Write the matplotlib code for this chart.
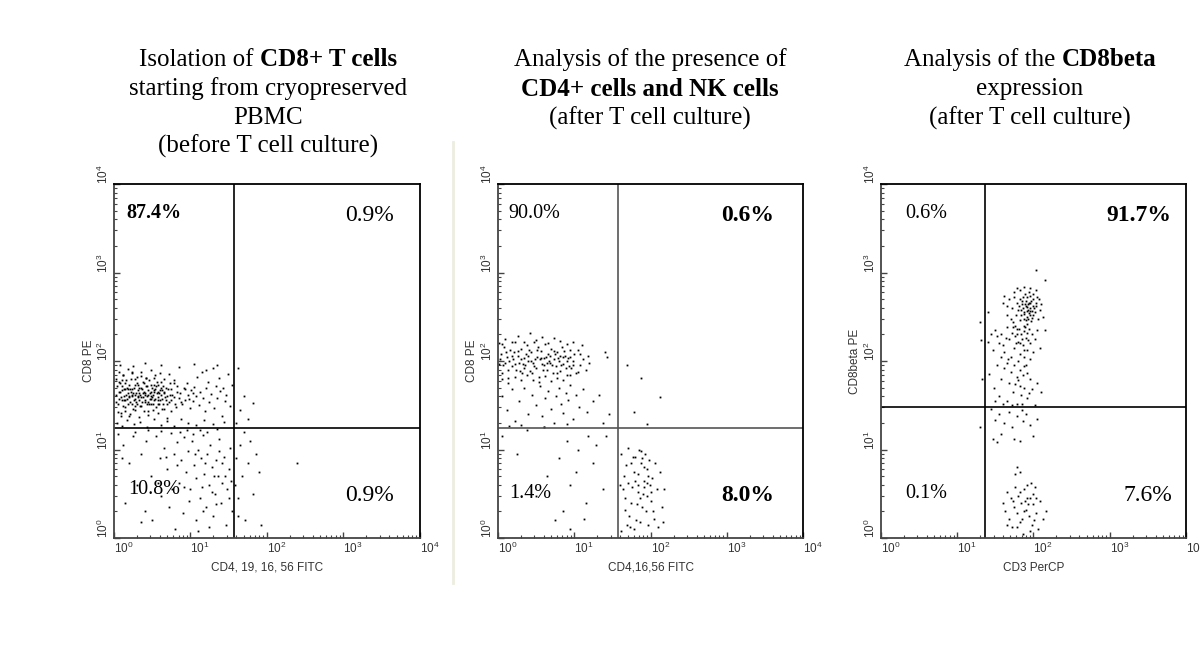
import numpy as np
import matplotlib
matplotlib.use("Agg")
import matplotlib.pyplot as plt
from matplotlib.lines import Line2D

plt.rcParams['mathtext.fontset'] = 'custom'
plt.rcParams['mathtext.rm'] = 'Liberation Sans'
plt.rcParams['font.family'] = 'Liberation Sans'

# --- data: events in log10 decades (x, y) ---
p1_ul = [(0.03,1.62),(0.05,1.51),(0.06,1.76),(0.08,1.65),(0.09,1.41),(0.10,1.56),(0.11,1.72),(0.12,1.84),(0.13,1.60),(0.14,1.48),
         (0.15,1.68),(0.16,1.78),(0.17,1.57),(0.18,1.64),(0.19,1.38),(0.20,1.73),(0.21,1.54),(0.22,1.65),(0.23,1.88),(0.24,1.60),
         (0.25,1.46),(0.26,1.70),(0.27,1.57),(0.28,1.80),(0.29,1.64),(0.30,1.52),(0.31,1.67),(0.32,1.73),(0.33,1.56),(0.34,1.62),
         (0.35,1.83),(0.36,1.49),(0.37,1.68),(0.38,1.59),(0.39,1.75),(0.40,1.64),(0.41,1.54),(0.42,1.72),(0.43,1.60),(0.44,1.43),
         (0.45,1.67),(0.46,1.78),(0.47,1.57),(0.48,1.65),(0.49,1.51),(0.50,1.70),(0.51,1.62),(0.52,1.81),(0.53,1.56),(0.54,1.68),
         (0.55,1.48),(0.56,1.64),(0.57,1.73),(0.58,1.59),(0.59,1.52),(0.60,1.67),(0.62,1.76),(0.63,1.57),(0.65,1.64),(0.66,1.46),
         (0.68,1.70),(0.70,1.60),(0.72,1.54),(0.74,1.68),(0.76,1.62),(0.78,1.75),(0.80,1.51),
         (0.04,1.72),(0.07,1.57),(0.10,1.67),(0.12,1.49),(0.14,1.75),(0.16,1.62),(0.18,1.52),(0.20,1.59),(0.22,1.80),(0.24,1.68),
         (0.26,1.56),(0.28,1.62),(0.30,1.75),(0.32,1.59),(0.34,1.49),(0.36,1.70),(0.38,1.64),(0.40,1.56),(0.42,1.81),(0.44,1.62),
         (0.46,1.52),(0.48,1.73),(0.50,1.59),(0.52,1.67),(0.54,1.57),(0.56,1.76),(0.58,1.65),(0.60,1.56),(0.62,1.62),(0.64,1.72),
         (0.67,1.59),(0.69,1.51),(0.71,1.68),(0.73,1.62),(0.75,1.56),
         (0.02,1.54),(0.06,1.65),(0.09,1.59),(0.11,1.78),(0.13,1.68),(0.15,1.56),(0.17,1.70),(0.19,1.60),(0.21,1.68),(0.23,1.51),
         (0.25,1.64),(0.27,1.73),(0.29,1.54),(0.31,1.60),(0.33,1.70),(0.35,1.59),(0.37,1.54),(0.39,1.65),(0.41,1.62),(0.43,1.72),
         (0.45,1.54),(0.47,1.64),(0.49,1.60),(0.51,1.52),(0.53,1.65),(0.55,1.72),(0.57,1.56),(0.59,1.64),(0.61,1.70),(0.64,1.52),
         (0.66,1.65),(0.08,1.75),(0.13,1.56),(0.18,1.68),(0.23,1.62),(0.28,1.49),(0.33,1.64),(0.38,1.76),(0.43,1.51),(0.48,1.57),
         (0.53,1.73),(0.58,1.51),(0.63,1.67),(0.68,1.56),(0.73,1.75),(0.78,1.59),(0.83,1.65),(0.88,1.54),(0.93,1.68),(0.98,1.57),
         (1.03,1.64),
         (0.02,1.80),(0.05,1.42),(0.07,1.88),(0.09,1.38),(0.12,1.84),(0.15,1.44),(0.18,1.91),(0.21,1.40),(0.24,1.86),(0.27,1.45),
         (0.30,1.82),(0.33,1.37),(0.36,1.88),(0.39,1.43),(0.42,1.81),(0.45,1.39),(0.48,1.90),(0.51,1.45),(0.54,1.84),(0.57,1.41),
         (0.60,1.87),(0.63,1.46),(0.66,1.80),(0.69,1.36),(0.72,1.85),(0.75,1.44),(0.78,1.79),(0.81,1.48),(0.83,1.72),(0.85,1.58),
         (0.87,1.64),(0.89,1.51),(0.91,1.69),(0.93,1.56),(0.95,1.75),(0.97,1.62),(0.99,1.47),(1.01,1.67),(1.03,1.55),(1.05,1.71),
         (1.07,1.60),(1.09,1.82),(1.11,1.50),(1.13,1.65),(1.15,1.88),(1.17,1.58),(1.19,1.43),(1.21,1.69),(1.23,1.76),(1.25,1.54),
         (1.27,1.63),(1.29,1.92),(1.31,1.47),(1.33,1.72),(1.35,1.58),(1.37,1.81),(1.39,1.66),(1.41,1.38),(1.43,1.70),(1.45,1.55),
         (1.47,1.62),(1.49,1.85),(1.52,1.49),(1.54,1.73),
         (0.04,1.30),(0.10,1.27),(0.17,1.33),(0.26,1.29),(0.34,1.31),(0.43,1.26),(0.52,1.34),(0.61,1.28),(0.70,1.32),(0.79,1.27),
         (0.88,1.35),(0.97,1.30),(1.08,1.28),(1.18,1.33),(1.30,1.29),(1.44,1.31),
         (0.08,1.96),(0.25,1.94),(0.40,1.98),(0.62,1.95),(0.85,1.93),(1.05,1.97),(1.20,1.90),(1.35,1.95)]
p1_ur = [(1.62,1.92),(1.70,1.60),(1.82,1.53),(1.65,1.45),(1.60,1.30),(1.75,1.35)]
p1_ll = [(0.05,1.18),(0.12,1.05),(0.20,0.85),(0.28,1.20),(0.35,0.95),(0.42,1.10),(0.48,0.70),(0.55,1.15),(0.60,0.90),(0.65,1.02),
         (0.70,0.78),(0.74,1.19),(0.78,0.95),(0.82,1.08),(0.85,0.62),(0.88,0.88),(0.91,1.14),(0.94,0.75),(0.97,0.98),(1.00,0.55),
         (1.02,1.10),(1.05,0.82),(1.07,0.68),(1.10,1.00),(1.12,0.45),(1.14,0.90),(1.16,1.16),(1.18,0.72),(1.20,0.35),(1.22,0.95),
         (1.24,0.60),(1.26,1.05),(1.28,0.80),(1.30,0.25),(1.32,0.50),(1.34,0.88),(1.36,0.70),(1.38,1.12),(1.40,0.40),(1.42,0.62),
         (1.44,0.92),(1.46,0.15),(1.48,0.55),(1.50,0.78),(1.52,1.02),(1.54,0.30),
         (0.15,0.40),(0.30,0.60),(0.40,0.30),(0.50,0.20),(0.62,0.48),(0.72,0.35),(0.80,0.10),(0.90,0.28),(0.98,0.42),(1.08,0.20),
         (1.15,0.58),(1.25,0.12),(1.33,0.38),(1.45,0.70),(0.58,0.62),(0.68,0.92),(0.76,0.55),(0.86,1.20),(0.95,1.22),(1.04,1.18),
         (1.13,1.22),(1.22,1.20),(1.35,1.23),(0.45,1.22),(0.25,1.15),(0.10,0.90),(0.36,0.18),(1.10,0.08),(1.28,0.52),(1.41,0.85),
         (1.50,0.45),(0.62,1.21),(0.83,0.82),(1.19,0.85),(1.37,0.98),(1.53,0.65),(0.92,0.58),(1.06,0.95),(1.17,0.30),(1.31,0.70)]
p1_lr = [(1.60,0.90),(1.62,0.45),(1.65,1.05),(1.68,0.70),(1.72,0.20),(1.75,0.85),(1.78,1.10),(1.82,0.50),(1.86,0.95),(1.90,0.75),
         (1.93,0.15),(1.63,0.25),(1.70,1.20),(2.40,0.85),(1.58,0.60)]

p2_ul = [(0.02,1.97),(0.04,2.08),(0.06,1.87),(0.08,2.16),(0.10,1.98),(0.12,2.05),(0.14,1.81),(0.16,2.13),(0.18,1.94),(0.20,2.02),
         (0.22,2.21),(0.24,1.90),(0.26,2.06),(0.28,1.98),(0.30,2.14),(0.32,1.86),(0.34,2.03),(0.36,1.95),(0.38,2.18),(0.40,2.00),
         (0.42,1.89),(0.44,2.10),(0.46,1.98),(0.48,2.22),(0.50,1.92),(0.52,2.05),(0.54,1.82),(0.56,2.11),(0.58,1.97),(0.60,2.03),
         (0.62,2.19),(0.64,1.90),(0.66,2.08),(0.68,1.98),(0.70,2.14),(0.72,1.87),(0.74,2.02),(0.76,1.94),(0.78,2.10),(0.80,2.00),
         (0.82,1.89),(0.84,2.16),(0.86,1.97),(0.88,2.06),(0.90,1.84),(0.92,2.03),(0.94,2.13),(0.96,1.92),(0.98,2.00),(1.00,2.08),
         (0.03,2.02),(0.07,1.95),(0.11,2.10),(0.15,2.00),(0.19,2.06),(0.23,1.97),(0.27,2.11),(0.31,2.02),(0.35,1.92),(0.39,2.06),
         (0.43,2.00),(0.47,1.94),(0.51,2.13),(0.55,2.02),(0.59,1.90),(0.63,2.05),(0.67,2.00),(0.71,1.95),(0.75,2.08),(0.79,2.03),
         (0.83,1.95),(0.87,2.11),(0.91,2.00),(0.95,2.05),(0.99,1.95),
         (0.05,2.19),(0.13,1.90),(0.21,2.10),(0.29,1.89),(0.37,2.08),(0.45,1.87),(0.53,2.16),(0.61,1.95),(0.69,2.06),(0.77,1.86),
         (0.85,2.05),(0.93,1.94),(0.57,2.03),(0.65,1.98),(0.73,2.11),(0.81,2.06),(0.89,1.92),(0.49,2.02),(0.41,2.13),(0.33,1.97),
         (0.02,2.20),(0.06,1.80),(0.10,2.25),(0.14,1.75),(0.18,2.22),(0.22,1.82),(0.26,2.28),(0.30,1.78),(0.34,2.21),(0.38,1.84),
         (0.42,2.32),(0.46,1.79),(0.50,2.24),(0.54,1.76),(0.58,2.27),(0.62,1.83),(0.66,2.20),(0.70,1.77),(0.74,2.26),(0.78,1.81),
         (0.82,2.23),(0.86,1.78),(0.90,2.19),(0.94,1.84),(0.98,2.22),(1.02,1.86),(1.05,2.12),(1.08,1.95),(1.10,2.18),(1.12,2.02),
         (1.15,1.90),(1.18,2.06),(1.20,1.98),(1.05,1.88),(1.08,2.08),
         (0.05,1.60),(0.12,1.45),(0.18,1.68),(0.22,1.32),(0.28,1.55),(0.35,1.70),(0.40,1.40),(0.45,1.62),(0.50,1.50),(0.55,1.72),
         (0.58,1.38),(0.62,1.58),(0.66,1.66),(0.70,1.46),(0.73,1.30),(0.76,1.60),(0.80,1.70),(0.83,1.52),(0.86,1.41),(0.89,1.64),
         (0.92,1.56),(0.95,1.73),(0.98,1.35),(1.02,1.62),(1.06,1.48),(1.12,1.68),(1.17,1.42),(1.25,1.55),(1.32,1.62),(1.38,1.30),
         (1.45,1.40),(0.30,1.28),(0.15,1.27),(0.60,1.26),(0.90,1.29),(1.43,2.05),(1.40,2.10)]
p2_ur = [(1.69,1.95),(1.87,1.81),(2.13,1.59),(1.78,1.42),(1.95,1.29)]
p2_ll = [(0.06,1.15),(0.25,0.95),(0.38,1.22),(0.60,1.25),(0.80,0.90),(0.95,0.60),(1.05,1.00),(1.18,1.15),(1.28,1.05),(1.42,1.15),
         (0.90,1.10),(0.65,0.70),(0.85,0.30),(0.95,0.10),(1.15,0.40),(1.13,0.22),(1.38,0.55),(0.75,0.20),(1.25,0.85),(0.50,0.48),
         (1.02,0.75)]
p2_lr = [(1.62,0.95),(1.65,0.70),(1.67,0.45),(1.70,1.02),(1.72,0.25),(1.74,0.85),(1.76,0.58),(1.78,0.10),(1.80,0.92),(1.82,0.38),
         (1.84,0.72),(1.86,0.18),(1.88,0.98),(1.90,0.50),(1.92,0.80),(1.94,0.30),(1.96,0.62),(1.98,0.88),(2.00,0.42),(2.02,0.68),
         (2.05,0.22),(2.08,0.55),(2.12,0.75),(2.15,0.35),(1.64,0.55),(1.68,0.82),(1.71,0.62),(1.75,0.40),(1.79,0.75),(1.83,0.52),
         (1.87,0.85),(1.91,0.65),(1.95,0.48),(1.99,0.60),(2.03,0.30),(1.85,1.00),(1.89,0.90),(1.93,0.95),(1.73,0.12),(1.81,0.20),
         (1.97,0.15),(2.10,0.12),(1.77,0.92),(1.83,0.60),(1.89,0.35),(1.95,0.78),(2.01,0.52),(2.06,0.85),(1.66,0.32),(1.69,0.15),
         (1.86,0.45),(1.92,0.58),(1.97,0.70),(1.80,0.65),(2.17,0.55),(2.16,0.18),(1.61,0.08),(1.60,0.60)]

p3_ur = [(1.90,2.62),(1.93,2.58),(1.96,2.66),(1.88,2.55),(1.99,2.70),(1.85,2.64),(1.92,2.72),(1.95,2.52),(2.01,2.60),(1.87,2.48),
         (1.94,2.66),(1.98,2.56),(1.91,2.50),(1.83,2.70),(2.03,2.66),(1.89,2.76),(1.97,2.45),(1.86,2.60),(1.94,2.78),(2.00,2.52),
         (1.80,2.58),(1.92,2.42),(1.96,2.74),(1.84,2.52),(1.90,2.68),(2.05,2.72),(1.78,2.66),(1.88,2.40),(1.99,2.62),(1.93,2.47),
         (1.82,2.46),(1.86,2.72),(1.91,2.56),(1.95,2.60),(2.02,2.55),(1.77,2.52),(1.89,2.64),(1.97,2.68),(1.84,2.58),(1.93,2.64),
         (1.87,2.53),(2.00,2.76),(1.81,2.62),(1.94,2.54),(1.90,2.46),(1.98,2.49),(1.85,2.68),(1.92,2.61),(1.96,2.57),(2.04,2.62),
         (1.75,2.72),(1.72,2.60),(1.70,2.48),(1.76,2.40),(1.74,2.78),(1.79,2.82),(1.83,2.80),(1.88,2.84),(1.95,2.82),(2.03,2.80),
         (2.07,2.70),(2.08,2.58),(2.06,2.48),(1.68,2.70),(1.65,2.62),(1.66,2.52),(1.62,2.74),(1.60,2.66),(2.10,2.64),(1.73,2.44),
         (1.50,2.35),(1.55,2.20),(1.58,2.30),(1.62,2.10),(1.65,2.38),(1.68,2.25),(1.70,2.05),(1.72,2.32),(1.74,2.15),(1.76,2.28),
         (1.78,2.36),(1.80,2.22),(1.82,2.08),(1.84,2.30),(1.86,2.18),(1.88,2.34),(1.90,2.26),(1.92,2.12),(1.94,2.36),(1.96,2.20),
         (1.98,2.30),(2.00,2.10),(2.02,2.25),(2.05,2.35),(1.85,2.25),(1.87,2.12),(1.89,2.38),(1.83,2.20),(1.79,2.30),(1.91,2.32),
         (1.93,2.24),(1.81,2.36),(1.77,2.20),(1.73,2.38),(1.64,2.26),(1.60,2.18),(1.52,2.28),(1.47,2.12),(1.45,2.30),(1.40,2.22),
         (1.57,2.04),(1.67,2.02),(1.95,2.02),(2.08,2.15),(1.88,2.04),(1.80,2.00),
         (1.42,1.85),(1.48,1.70),(1.52,1.95),(1.55,1.60),(1.58,1.80),(1.62,1.92),(1.65,1.55),(1.68,1.75),(1.70,1.88),(1.73,1.65),
         (1.75,1.95),(1.78,1.52),(1.80,1.78),(1.82,1.90),(1.84,1.62),(1.86,1.84),(1.88,1.70),(1.90,1.96),(1.92,1.58),(1.95,1.80),
         (1.98,1.68),(2.02,1.50),(2.05,1.75),(1.72,1.50),(1.60,1.52),(1.50,1.55),(1.85,1.52),(1.92,1.87),(1.78,1.82),(2.10,1.65),
         (1.83,1.72),(1.66,1.98),(1.76,1.74),(1.87,1.94),(1.94,1.64),
         (2.03,3.03),(2.15,2.92),(1.40,2.55),(2.12,2.50),(2.15,2.35)]
p3_ul = [(1.30,2.44),(1.31,2.24),(1.33,1.80)]
p3_ll = [(1.30,1.25)]
p3_lr = [(1.45,1.46),(1.50,1.33),(1.55,1.40),(1.58,1.18),(1.62,1.30),(1.68,1.42),(1.72,1.25),(1.78,1.38),(1.82,1.10),(1.86,1.32),
         (1.90,1.40),(1.95,1.28),(2.00,1.15),(2.05,1.35),(1.47,1.12),(1.52,1.08),(1.85,1.45),(1.75,1.12),
         (1.78,0.80),(1.82,0.75),(1.76,0.72),
         (1.60,0.40),(1.63,0.30),(1.66,0.52),(1.68,0.22),(1.70,0.45),(1.72,0.12),(1.74,0.35),(1.76,0.58),(1.78,0.28),
         (1.80,0.48),(1.82,0.18),(1.84,0.40),(1.86,0.05),(1.88,0.55),(1.90,0.32),(1.92,0.60),(1.94,0.25),(1.96,0.45),(1.98,0.15),
         (2.00,0.38),(2.02,0.58),(2.04,0.28),(2.06,0.10),(2.08,0.42),(2.12,0.22),(2.16,0.30),(1.83,0.52),(1.87,0.30),(1.91,0.45),
         (1.95,0.08),(1.99,0.50),(1.73,0.42),(1.79,0.12),(1.93,0.38),(1.97,0.62),(2.03,0.45),(1.65,0.15),(1.85,0.22),(1.89,0.42),
         (2.01,0.20)]

# quadrant gates (linear values) and percentages: UL, UR, LL, LR
gates = [(37.5, 17.5), (37.0, 17.5), (23.0, 30.0)]
pcts = [["87.4%", "0.9%", "10.8%", "0.9%"],
        ["90.0%", "0.6%", "1.4%", "8.0%"],
        ["0.6%", "91.7%", "0.1%", "7.6%"]]
pct_bold = [[True, False, False, False],
            [False, True, False, True],
            [False, True, False, False]]
xlabels = ["CD4, 19, 16, 56 FITC", "CD4,16,56 FITC", "CD3 PerCP"]
ylabels = ["CD8 PE", "CD8 PE", "CD8beta PE"]
titles = [
    [[("Isolation of", False), ("CD8+ T cells", True)], [("starting from cryopreserved", False)],
     [("PBMC", False)], [("(before T cell culture)", False)]],
    [[("Analysis of the presence of", False)], [("CD4+ cells and NK cells", True)],
     [("(after T cell culture)", False)]],
    [[("Analysis of the", False), ("CD8beta", True)], [("expression", False)],
     [("(after T cell culture)", False)]],
]
panels = [[p1_ul, p1_ur, p1_ll, p1_lr], [p2_ul, p2_ur, p2_ll, p2_lr], [p3_ul, p3_ur, p3_ll, p3_lr]]

fig = plt.figure(figsize=(12, 6.6), dpi=100)
lefts = [0.095, 0.4148, 0.7339]
title_cx = [268, 650, 1030]
gate_col = ['black', '#555555', 'black']

# percentage label positions (axes fraction)
pos_ul = [(0.042, 0.918), (0.034, 0.918), (0.079, 0.918)]
pos_ur = [(0.915, 0.912), (0.905, 0.91), (0.951, 0.91)]
pos_ll = [(0.046, 0.136), (0.037, 0.127), (0.079, 0.127)]
pos_lr = [(0.915, 0.121), (0.905, 0.119), (0.954, 0.119)]

decades = [1, 10, 100, 1000, 10000]
dec_lbl = [r'$10^{%d}$' % i for i in range(5)]

for i in range(3):
    ax = fig.add_axes([lefts[i], 0.1848, 0.2546, 0.5364])
    ax.set_xscale('log')
    ax.set_yscale('log')
    ax.set_xlim(1, 10000)
    ax.set_ylim(1, 10000)
    for q in panels[i]:
        pts = np.array(q)
        ax.plot(10 ** pts[:, 0], 10 ** pts[:, 1], 's', color='black', ms=1.3, mew=0)
    gx, gy = gates[i]
    ax.axvline(gx, color=gate_col[i], lw=1.2)
    ax.axhline(gy, color=gate_col[i], lw=1.2)
    for s in ['top', 'right']:
        ax.spines[s].set_color('black')
        ax.spines[s].set_linewidth(1.3)
    for s in ['left', 'bottom']:
        ax.spines[s].set_color('#444444')
        ax.spines[s].set_linewidth(1.3)
    ax.set_xticks(decades)
    ax.set_xticklabels(dec_lbl)
    ax.set_yticks(decades)
    ax.set_yticklabels(dec_lbl)
    ax.tick_params(which='major', direction='in', length=4, width=1, color='#444444',
                   labelsize=8.5, labelcolor='#333333', pad=2)
    ax.tick_params(which='minor', direction='in', length=2.5, width=0.8, color='#444444')
    ax.tick_params(axis='y', labelrotation=90)
    for t in ax.get_xticklabels():
        t.set_ha('left')
    for t in ax.get_yticklabels():
        t.set_va('bottom')
        t.set_ha('right')
    ax.set_xlabel(xlabels[i], fontsize=8.5, color='#333333', labelpad=4)
    ax.set_ylabel(ylabels[i], fontsize=8.5, color='#333333', labelpad=1)
    for (px, py), txt, bold, ha, sz in zip([pos_ul[i], pos_ur[i], pos_ll[i], pos_lr[i]], pcts[i], pct_bold[i],
                                          ['left', 'right', 'left', 'right'], [14.5, 17, 14.5, 17]):
        ax.text(px, py, txt, transform=ax.transAxes, ha=ha, va='center', fontsize=sz,
                family='Liberation Serif', fontweight='bold' if bold else 'normal')

# titles with mixed weight
renderer = fig.canvas.get_renderer()
tsize = 18
line_y = [60, 89, 118, 146]


def width_px(s, bold):
    t = fig.text(0, 0, s, fontsize=tsize, family='Liberation Serif', fontweight='bold' if bold else 'normal')
    w = t.get_window_extent(renderer).width
    t.remove()
    return w


space = width_px("a a", False) - width_px("aa", False)
for i in range(3):
    for j, parts in enumerate(titles[i]):
        ws = [width_px(s, b) for s, b in parts]
        total = sum(ws) + space * (len(parts) - 1)
        x = title_cx[i] - total / 2
        for (s, b), w in zip(parts, ws):
            fig.text(x / 1200, 1 - line_y[j] / 660, s, fontsize=tsize, family='Liberation Serif',
                     fontweight='bold' if b else 'normal', ha='left', va='center')
            x += w + space

# faint separator between the first two panels
fig.add_artist(Line2D([453 / 1200, 453 / 1200], [1 - 142 / 660, 1 - 583 / 660],
                      color='#eeede0', lw=2, transform=fig.transFigure))

fig.savefig('out.png', dpi=100)
